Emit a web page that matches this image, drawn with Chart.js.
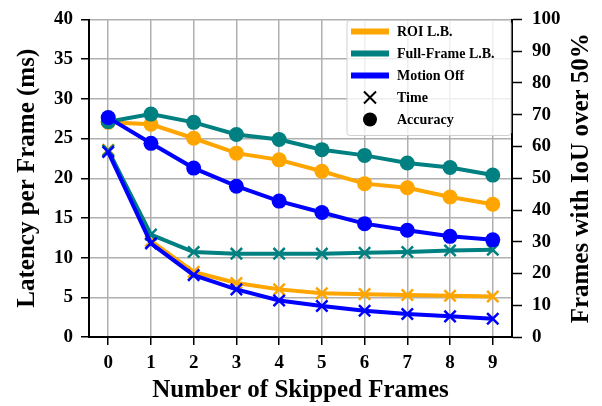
<!DOCTYPE html>
<html>
<head>
<meta charset="utf-8">
<script src="https://cdn.jsdelivr.net/npm/chart.js@4/dist/chart.umd.min.js"></script>
<style>
  html, body { margin: 0; padding: 0; background: #fff; }
  #wrap { width: 602px; height: 406px; }
</style>
</head>
<body>
<div id="wrap"><canvas id="chart" width="602" height="406"></canvas></div>
<script>
const skipped = [0, 1, 2, 3, 4, 5, 6, 7, 8, 9];

// latency per frame (ms), left axis
const roiTime = [23.6, 12.1, 8.2, 6.8, 6.0, 5.5, 5.4, 5.3, 5.2, 5.1];
const fullTime = [23.5, 12.9, 10.7, 10.5, 10.5, 10.5, 10.6, 10.7, 10.9, 11.0];
const motionTime = [23.3, 11.8, 7.8, 6.0, 4.6, 3.9, 3.3, 2.9, 2.6, 2.3];

// frames with IoU over 50% (%), right axis
const roiAcc = [67.6, 67.0, 62.6, 57.9, 55.8, 52.2, 48.3, 47.0, 44.1, 41.8];
const fullAcc = [67.8, 70.2, 67.6, 63.8, 62.2, 59.0, 57.2, 54.8, 53.4, 51.0];
const motionAcc = [69.1, 61.0, 53.2, 47.5, 42.8, 39.2, 35.7, 33.6, 31.7, 30.6];

const ORANGE = "#FFA500";
const TEAL = "#008080";
const BLUE = "#0000FF";
const FONT = "'Liberation Serif', 'Times New Roman', serif";
const rightTitle = "Frames with IoU over 50%";

const pts = (ys) => skipped.map((x, i) => ({ x: x, y: ys[i] }));

const timeSet = (ys, color, order) => ({
  data: pts(ys),
  yAxisID: "y",
  borderColor: color,
  backgroundColor: color,
  borderWidth: 4,
  pointStyle: "crossRot",
  pointRadius: 8,
  pointBorderWidth: 2.5,
  pointHoverRadius: 8,
  order: order,
});

const accSet = (ys, color, order) => ({
  data: pts(ys),
  yAxisID: "y2",
  borderColor: color,
  backgroundColor: color,
  borderWidth: 4,
  pointStyle: "circle",
  pointRadius: 7.5,
  pointBorderWidth: 0,
  pointHoverRadius: 7.5,
  order: order,
});

// legend drawn inside the plot, top right
const legendItems = [
  { label: "ROI L.B.", kind: "line", color: ORANGE },
  { label: "Full-Frame L.B.", kind: "line", color: TEAL },
  { label: "Motion Off", kind: "line", color: BLUE },
  { label: "Time", kind: "cross", color: "#000" },
  { label: "Accuracy", kind: "dot", color: "#000" },
];

const boxLegend = {
  id: "boxLegend",
  afterDraw(chart) {
    const ctx = chart.ctx;
    const area = chart.chartArea;
    const w = 164, h = 115;
    const x0 = area.right - w - 1, y0 = area.top + 1;
    ctx.save();
    ctx.fillStyle = "rgba(255,255,255,0.8)";
    ctx.strokeStyle = "#d0d0d0";
    ctx.lineWidth = 1;
    ctx.beginPath();
    ctx.roundRect(x0, y0, w, h, 3);
    ctx.fill();
    ctx.stroke();
    ctx.font = "bold 14px " + FONT;
    ctx.textBaseline = "middle";
    legendItems.forEach((it, i) => {
      const cy = y0 + 11 + i * 22;
      const sx = x0 + 4;
      if (it.kind === "line") {
        ctx.fillStyle = it.color;
        ctx.fillRect(sx, cy - 3, 38, 6);
      } else if (it.kind === "cross") {
        ctx.strokeStyle = it.color;
        ctx.lineWidth = 2;
        ctx.beginPath();
        ctx.moveTo(sx + 13, cy - 6); ctx.lineTo(sx + 25, cy + 6);
        ctx.moveTo(sx + 25, cy - 6); ctx.lineTo(sx + 13, cy + 6);
        ctx.stroke();
      } else {
        ctx.fillStyle = it.color;
        ctx.beginPath();
        ctx.arc(sx + 19, cy, 7, 0, Math.PI * 2);
        ctx.fill();
      }
      ctx.fillStyle = "#000";
      ctx.fillText(it.label, sx + 46, cy + 1);
    });
    ctx.restore();
  },
};

// right axis title reads bottom to top, like the left one
const rightAxisTitle = {
  id: "rightAxisTitle",
  afterDraw(chart) {
    const ctx = chart.ctx;
    const area = chart.chartArea;
    ctx.save();
    ctx.translate(582, (area.top + area.bottom) / 2);
    ctx.rotate(-Math.PI / 2);
    ctx.font = "bold 25px " + FONT;
    ctx.fillStyle = "#000";
    ctx.textAlign = "center";
    ctx.textBaseline = "middle";
    ctx.fillText(rightTitle, 0, 0);
    ctx.restore();
  },
};

const tickFont = { family: FONT, size: 19, weight: "bold", lineHeight: 1 };
const titleFont = { family: FONT, size: 25, weight: "bold" };
const gridOpts = { color: "#b0b0b0", lineWidth: 1.5, tickColor: "#000", tickLength: 8, tickWidth: 1.5 };

new Chart(document.getElementById("chart"), {
  type: "line",
  data: {
    datasets: [
      timeSet(roiTime, ORANGE, 6),
      timeSet(fullTime, TEAL, 5),
      timeSet(motionTime, BLUE, 4),
      accSet(roiAcc, ORANGE, 3),
      accSet(fullAcc, TEAL, 2),
      accSet(motionAcc, BLUE, 1),
    ],
  },
  options: {
    responsive: false,
    animation: false,
    layout: { padding: { top: 17, left: 0, right: 0, bottom: 0 } },
    plugins: { legend: { display: false }, tooltip: { enabled: false } },
    scales: {
      x: {
        type: "linear",
        min: -0.45,
        max: 9.45,
        afterFit: (s) => { s.height = 69; },
        ticks: { stepSize: 1, includeBounds: false, color: "#000", font: tickFont, padding: 9 },
        grid: gridOpts,
        border: { color: "#000", width: 2 },
        title: { display: true, text: "Number of Skipped Frames", color: "#000", font: titleFont, padding: { bottom: 0 } },
      },
      y: {
        position: "left",
        min: 0,
        max: 40,
        afterFit: (s) => { s.width = 89; },
        ticks: { stepSize: 5, color: "#000", font: tickFont, padding: 8 },
        grid: gridOpts,
        border: { color: "#000", width: 2 },
        title: { display: true, text: "Latency per Frame (ms)", color: "#000", font: titleFont, padding: { top: 13 } },
      },
      y2: {
        position: "right",
        min: 0,
        max: 100,
        afterFit: (s) => { s.width = 90; },
        ticks: { stepSize: 10, color: "#000", font: tickFont, padding: 10 },
        grid: { drawOnChartArea: false, tickColor: "#000", tickLength: 10, tickWidth: 1.5 },
        border: { color: "#000", width: 2 },
      },
    },
  },
  plugins: [boxLegend, rightAxisTitle],
});
</script>
</body>
</html>
